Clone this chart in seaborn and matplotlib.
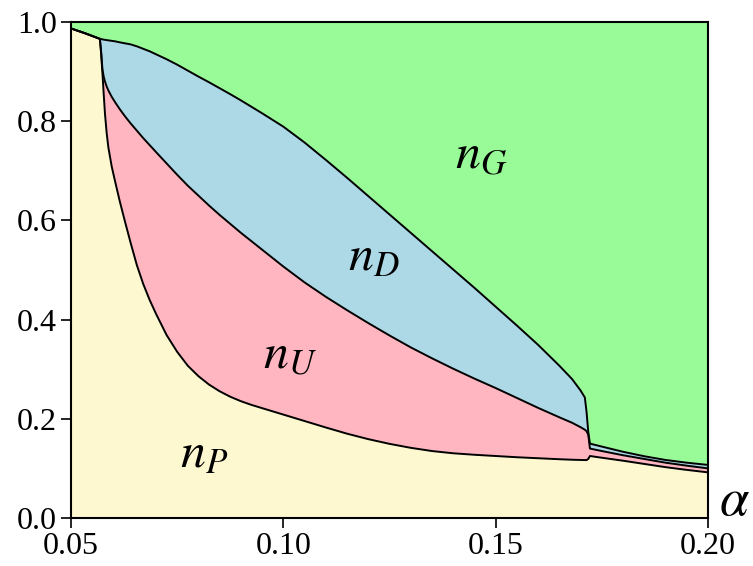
import numpy as np
import matplotlib
matplotlib.use("Agg")
import matplotlib.pyplot as plt
import seaborn as sns

# Fractions of the four states as a function of alpha
alpha = [0.0500, 0.0534, 0.0568, 0.0571, 0.0574, 0.0577, 0.0580, 0.0584,
         0.0588, 0.0596, 0.0604, 0.0615, 0.0627, 0.0640, 0.0655, 0.0670,
         0.0685, 0.0700, 0.0725, 0.0750, 0.0775, 0.0800, 0.0825, 0.0850,
         0.0875, 0.0900, 0.0925, 0.0950, 0.1000, 0.1050, 0.1100, 0.1150,
         0.1200, 0.1250, 0.1300, 0.1350, 0.1400, 0.1450, 0.1500, 0.1550,
         0.1600, 0.1650, 0.1680, 0.1700, 0.1710, 0.1714, 0.1718, 0.1722,
         0.1750, 0.1800, 0.1850, 0.1900, 0.1950, 0.2000]

n_P = [0.987, 0.977, 0.966, 0.935, 0.897, 0.855, 0.815, 0.776,
       0.747, 0.708, 0.678, 0.638, 0.598, 0.556, 0.510, 0.472,
       0.440, 0.412, 0.369, 0.335, 0.307, 0.286, 0.269, 0.2555,
       0.2445, 0.2355, 0.228, 0.2215, 0.2085, 0.1955, 0.1825, 0.170,
       0.159, 0.1495, 0.1415, 0.135, 0.1305, 0.1275, 0.125, 0.1225,
       0.1205, 0.1185, 0.1175, 0.117, 0.1168, 0.1168, 0.119, 0.125,
       0.1215, 0.1155, 0.109, 0.1025, 0.097, 0.092]

n_U = [0.000, 0.000, 0.000, 0.005, 0.008, 0.035, 0.065, 0.094,
       0.115, 0.141, 0.160, 0.186, 0.212, 0.240, 0.271, 0.294,
       0.312, 0.326, 0.346, 0.357, 0.363, 0.364, 0.361, 0.3555,
       0.3485, 0.3395, 0.330, 0.3195, 0.2985, 0.2795, 0.2635, 0.249,
       0.234, 0.2185, 0.2025, 0.187, 0.1705, 0.1535, 0.137, 0.1195,
       0.1015, 0.0845, 0.0745, 0.066, 0.0612, 0.0582, 0.049, 0.015,
       0.0135, 0.011, 0.010, 0.009, 0.0085, 0.008]

n_D = [0.000, 0.000, 0.000, 0.0255, 0.060, 0.0745, 0.084, 0.0935,
       0.101, 0.113, 0.123, 0.135, 0.147, 0.159, 0.170, 0.180,
       0.189, 0.197, 0.210, 0.222, 0.232, 0.240, 0.2485, 0.2555,
       0.2615, 0.267, 0.271, 0.275, 0.282, 0.282, 0.276, 0.267,
       0.256, 0.244, 0.231, 0.216, 0.200, 0.183, 0.164, 0.146,
       0.127, 0.104, 0.088, 0.074, 0.065, 0.039, 0.006, 0.010,
       0.009, 0.007, 0.0055, 0.0055, 0.006, 0.007]

n_G = [0.013, 0.023, 0.034, 0.0345, 0.035, 0.0355, 0.036, 0.0365,
       0.037, 0.038, 0.039, 0.041, 0.043, 0.045, 0.049, 0.054,
       0.059, 0.065, 0.075, 0.086, 0.098, 0.110, 0.1215, 0.1335,
       0.1455, 0.158, 0.171, 0.184, 0.211, 0.243, 0.278, 0.314,
       0.351, 0.388, 0.425, 0.462, 0.499, 0.536, 0.574, 0.612,
       0.651, 0.693, 0.720, 0.743, 0.757, 0.786, 0.826, 0.850,
       0.856, 0.8665, 0.8755, 0.883, 0.8885, 0.893]

labels = [r"$n_P$", r"$n_U$", r"$n_D$", r"$n_G$"]
colors = ["#fdf8cf", "lightpink", "lightblue", "palegreen"]

x_ticks = [0.05, 0.10, 0.15, 0.20]
y_ticks = [0.0, 0.2, 0.4, 0.6, 0.8, 1.0]

sns.set_theme(style="ticks")
plt.rcParams["font.family"] = ["Liberation Serif", "DejaVu Serif"]
plt.rcParams["mathtext.fontset"] = "stix"

fig = plt.figure(figsize=(7.53, 5.66), dpi=100)
ax = fig.add_axes([71 / 753, 48 / 566, 637 / 753, 496 / 566])

x = np.asarray(alpha)
series = [np.asarray(s) for s in (n_P, n_U, n_D, n_G)]
ax.stackplot(x, *series, colors=colors, linewidth=0)

# Boundary lines between the stacked regions
tops = np.cumsum(np.vstack(series[:3]), axis=0)
for top in tops:
    sns.lineplot(x=x, y=top, ax=ax, color="black", linewidth=1.4,
                 estimator=None, sort=False, legend=False)

ax.set_xlim(0.05, 0.20)
ax.set_ylim(0.0, 1.0)
ax.set_xticks(x_ticks)
ax.set_yticks(y_ticks)
ax.set_xticklabels([f"{t:.2f}" for t in x_ticks])
ax.set_yticklabels([f"{t:.1f}" for t in y_ticks])
ax.tick_params(axis="both", labelsize=23, length=7, width=1.2,
               direction="out", colors="black", pad=3)
for sp in ax.spines.values():
    sp.set_visible(True)
    sp.set_color("black")
    sp.set_linewidth(1.5)
ax.set_xlabel("")
ax.set_ylabel("")

# Region labels
label_pos = [(0.0757, 0.103), (0.0952, 0.302), (0.1152, 0.500), (0.1404, 0.706)]
for lab, (lx, ly) in zip(labels, label_pos):
    ax.text(lx, ly, lab, fontsize=36, ha="left", va="baseline", color="black")

ax.text(1.018, 0.006, r"$\alpha$", transform=ax.transAxes, fontsize=38,
        ha="left", va="baseline", color="black")

fig.savefig("out.png", dpi=100)
